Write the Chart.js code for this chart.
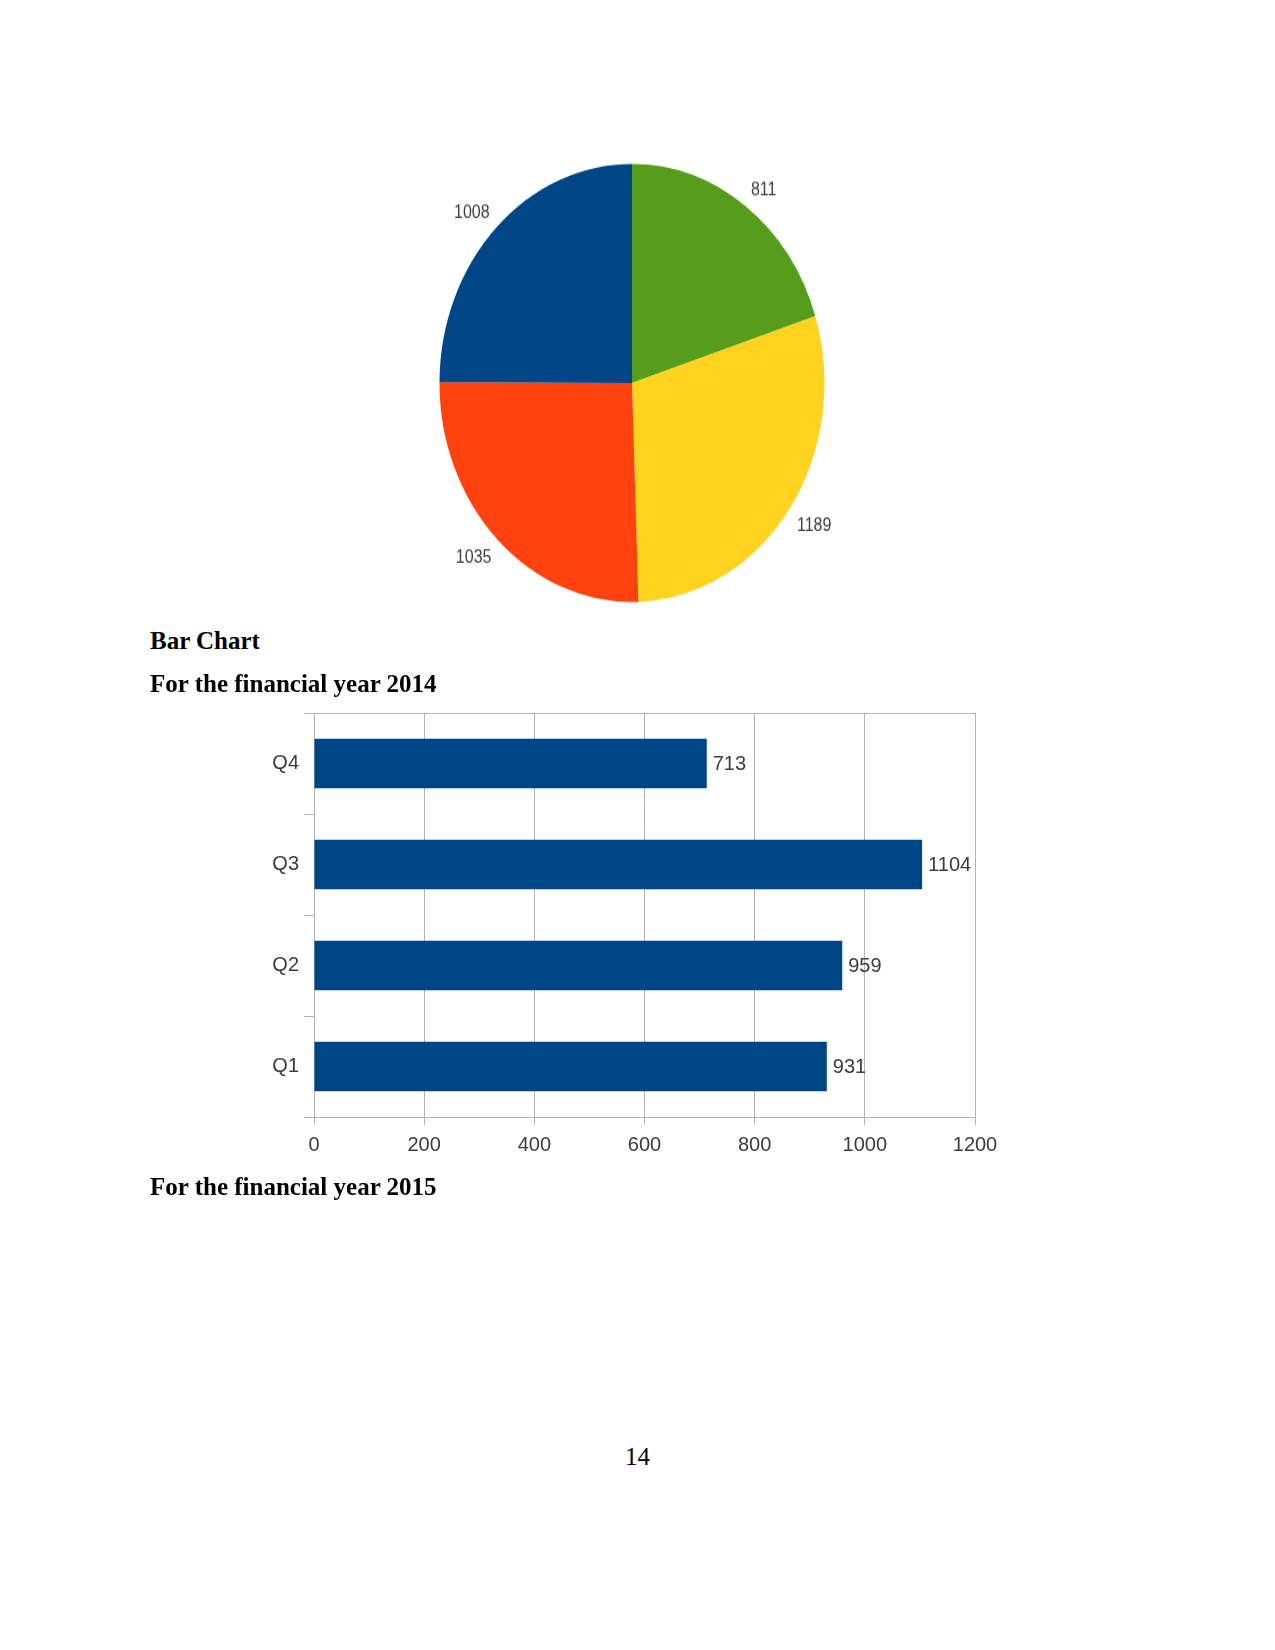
<!DOCTYPE html>
<html lang="en">
<head>
    <meta charset="UTF-8">
    <title>Quarterly figures</title>
    <script src="https://cdn.jsdelivr.net/npm/chart.js"></script>
    <style>
        html, body { margin: 0; padding: 0; background: #fff; }
        .page { position: relative; width: 1275px; height: 1650px; overflow: hidden; }
        .txt { position: absolute; font-family: 'Liberation Serif', serif; font-size: 25px; line-height: 1; color: #000; white-space: nowrap; }
        .bold { font-weight: bold; }
        #pieBox { position: absolute; left: 372px; top: 123px; width: 520px; height: 520px; transform: scaleY(1.138); transform-origin: 50% 50%; }
        #barBox { position: absolute; left: 200px; top: 690px; width: 820px; height: 500px; }
    </style>
</head>
<body>
<div class="page">
    <!-- pie (drawn as a circle, stretched vertically like the original) -->
    <div id="pieBox"><canvas id="pieChart" width="520" height="520"></canvas></div>

    <div class="txt bold" style="left:150px; top:628px;">Bar Chart</div>
    <div class="txt bold" style="left:150px; top:671px;">For the financial year 2014</div>

    <div id="barBox"><canvas id="barChart" width="820" height="500"></canvas></div>

    <div class="txt bold" style="left:150px; top:1174px;">For the financial year 2015</div>
    <div class="txt" style="left:0; width:1275px; text-align:center; top:1444px;">14</div>
</div>

<script>
// pie values (clockwise from 12 o'clock)
const pieValues = [811, 1189, 1035, 1008];
const pieColors = ['#579d1c', '#ffd320', '#ff420e', '#004586'];

// bar chart, financial year 2014
const quarters = ['Q1', 'Q2', 'Q3', 'Q4'];
const quarterValues = [931, 959, 1104, 713];
const xTicks = [0, 200, 400, 600, 800, 1000, 1200];

const labelColor = '#3c3c3c';
const gridColor = '#b3b3b3';

// ラベルを扇形の外側に描く (角をアンカーに合わせる)
const pieLabels = {
    id: 'pieLabels',
    afterDatasetsDraw(chart) {
        const ctx = chart.ctx;
        const arcs = chart.getDatasetMeta(0).data;
        ctx.save();
        ctx.font = '16px "Liberation Sans", sans-serif';
        ctx.fillStyle = labelColor;
        ctx.textBaseline = 'middle';
        arcs.forEach((arc, i) => {
            const mid = (arc.startAngle + arc.endAngle) / 2;
            const r = arc.outerRadius * 1.048;
            const cx = Math.cos(mid), sy = Math.sin(mid);
            ctx.textAlign = cx >= 0 ? 'left' : 'right';
            const y = arc.y + sy * r + (sy < 0 ? -6.5 : 9);
            ctx.fillText(String(pieValues[i]), arc.x + cx * r, y);
        });
        ctx.restore();
    }
};

new Chart(document.getElementById('pieChart').getContext('2d'), {
    type: 'pie',
    data: {
        labels: pieValues.map(String),
        datasets: [{ data: pieValues, backgroundColor: pieColors, borderWidth: 0 }]
    },
    options: {
        responsive: false,
        animation: false,
        layout: { padding: 67.5 },
        plugins: { legend: { display: false }, tooltip: { enabled: false } }
    },
    plugins: [pieLabels]
});

// 棒の右に値を表示
const barValueLabels = {
    id: 'barValueLabels',
    afterDatasetsDraw(chart) {
        const ctx = chart.ctx;
        const bars = chart.getDatasetMeta(0).data;
        ctx.save();
        ctx.font = '20px "Liberation Sans", sans-serif';
        ctx.fillStyle = labelColor;
        ctx.textAlign = 'left';
        ctx.textBaseline = 'middle';
        bars.forEach((bar, i) => {
            ctx.fillText(String(quarterValues[i]), bar.x + 6, bar.y + 1);
        });
        ctx.restore();
    }
};

const axisFont = { family: '"Liberation Sans", sans-serif', size: 20 };

new Chart(document.getElementById('barChart').getContext('2d'), {
    type: 'bar',
    data: {
        labels: quarters,
        datasets: [{
            data: quarterValues,
            backgroundColor: '#004586',
            barPercentage: 0.49,
            categoryPercentage: 1
        }]
    },
    options: {
        indexAxis: 'y',
        responsive: false,
        animation: false,
        layout: { padding: { left: 0, top: 23, right: 45, bottom: 0 } },
        plugins: { legend: { display: false }, tooltip: { enabled: false } },
        scales: {
            x: {
                min: xTicks[0],
                max: xTicks[xTicks.length - 1],
                afterBuildTicks: s => { s.ticks = xTicks.map(v => ({ value: v })); },
                afterFit: s => { s.height = 73; },
                ticks: { color: labelColor, font: axisFont, padding: 8, maxRotation: 0, callback: v => String(v) },
                grid: { color: gridColor, tickLength: 8 },
                border: { color: gridColor }
            },
            y: {
                reverse: true,
                afterFit: s => { s.width = 114; },
                ticks: { color: labelColor, font: axisFont, padding: 5 },
                // only the outer frame lines cross the plot, the rest are short ticks
                grid: {
                    offset: true,
                    tickLength: 10,
                    tickColor: gridColor,
                    color: c => (c.type !== 'tick' || c.index === 0) ? gridColor : 'rgba(0,0,0,0)'
                },
                border: { color: gridColor }
            }
        }
    },
    plugins: [barValueLabels]
});
</script>
</body>
</html>
